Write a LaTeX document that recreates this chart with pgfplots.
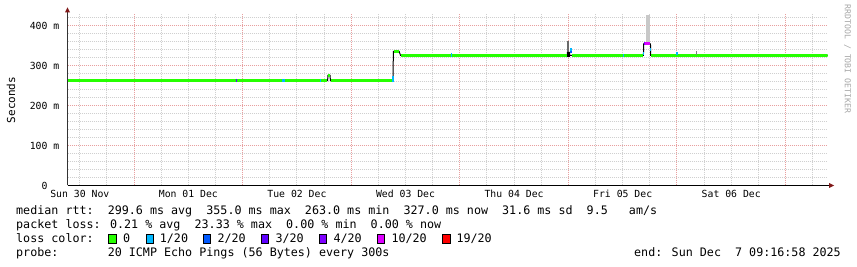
\documentclass[border=0pt]{standalone}
\usepackage{pgfplots}
\pgfplotsset{compat=1.18}
\usepackage{fontspec}
\setmainfont{DejaVu Sans Mono}
\definecolor{lzero}{HTML}{26FF00}
\definecolor{lone}{HTML}{00B8FF}
\definecolor{ltwo}{HTML}{0059FF}
\definecolor{lthree}{HTML}{5E00FF}
\definecolor{lfour}{HTML}{7E00FF}
\definecolor{lten}{HTML}{DD00FF}
\definecolor{lnineteen}{HTML}{FF0000}
\definecolor{gridred}{HTML}{E8A0A0}
\definecolor{gridgray}{HTML}{D0D0D0}
\definecolor{arrowred}{HTML}{801818}
\definecolor{smokedark}{HTML}{6A6A6A}
\definecolor{smokelight}{HTML}{C8C8C8}
\newcommand\tickfont{\fontsize{9.8pt}{10pt}\selectfont}
\newcommand\legfont{\fontsize{11.7pt}{12pt}\selectfont}
\begin{document}
\begin{tikzpicture}[x=1pt,y=1pt]
\useasboundingbox (0,0) rectangle (857,267);
\begin{axis}[
  at={(67.5pt,81.5pt)}, anchor=south west,
  scale only axis, width=760pt, height=172pt,
  xmin=9.28, xmax=177.28, ymin=0, ymax=430,
  axis line style={draw=none},
  xtick={24,48,72,96,120,144,168}, xticklabels={},
  minor xtick={12,18,30,36,42,54,60,66,78,84,90,102,108,114,126,132,138,150,156,162,174},
  extra x ticks={12,36,60,84,108,132,156},
  extra x tick labels={Sun 30 Nov,Mon 01 Dec,Tue 02 Dec,Wed 03 Dec,Thu 04 Dec,Fri 05 Dec,Sat 06 Dec},
  extra x tick style={grid=none},
  xticklabel style={font=\tickfont, anchor=base, inner sep=0pt, yshift=-12pt},
  ytick={0,100,200,300,400},
  yticklabels={0\hphantom{\ m},100 m,200 m,300 m,400 m},
  minor ytick={20,40,60,80,120,140,160,180,220,240,260,280,320,340,360,380,420},
  yticklabel style={font=\tickfont, anchor=east, inner sep=0pt, xshift=-8pt},
  major tick length=0pt, minor tick length=0pt,
  grid=both,
  major grid style={draw=gridred, dash pattern=on 1pt off 1pt, line width=1pt},
  minor grid style={draw=gridgray, dash pattern=on 1pt off 1pt, line width=1pt},
]
% smoke
\addplot[smokedark, line width=2.2pt, line cap=butt] coordinates {(120.0,330)(120.0,362)};
\addplot[smokelight, line width=4.7pt, line cap=butt] coordinates {(137.57,355)(137.57,425)};
% median (black steps)
\addplot[black, line width=1pt] coordinates {
(9.28,262)(66.8,262)(66.82,275)(67.35,275)(67.37,262)(81.26,262)(81.3,335)(82.6,335)(82.9,325)
(119.75,325)(119.77,333)(120.25,333)(120.27,325)(136.6,325)(136.62,354)(138.15,354)(138.17,325)(177.28,325)};
% loss 0 (green) flats
\addplot[lzero, line width=3pt, line cap=butt] coordinates {(9.28,262)(66.75,262)};
\addplot[lzero, line width=3pt, line cap=butt] coordinates {(66.95,275)(67.35,275)};
\addplot[lzero, line width=3pt, line cap=butt] coordinates {(67.45,262)(81.2,262)};
\addplot[lzero, line width=3pt, line cap=butt] coordinates {(81.5,335)(82.55,335)};
\addplot[lzero, line width=3pt, line cap=butt] coordinates {(82.95,325)(119.7,325)};
\addplot[lzero, line width=3pt, line cap=butt] coordinates {(120.75,325)(136.55,325)};
\addplot[lzero, line width=3pt, line cap=butt] coordinates {(138.25,325)(177.28,325)};
% other loss colours
\addplot[lthree, line width=3pt, line cap=butt] coordinates {(46.42,262)(46.62,262)};
\addplot[lone, line width=3pt, line cap=butt] coordinates {(56.75,262)(57.45,262)};
\addplot[lone, line width=3pt, line cap=butt] coordinates {(65.05,262)(65.4,262)};
\addplot[lone, line width=1.5pt, line cap=butt] coordinates {(81.2,258)(81.2,274)};
\addplot[lone, line width=1.2pt, line cap=butt] coordinates {(94.16,321)(94.16,330)};
\addplot[black, line width=4.5pt, line cap=butt] coordinates {(119.78,328)(120.25,328)};
\addplot[ltwo, line width=3pt, line cap=butt] coordinates {(120.25,335)(120.7,335)};
\addplot[lone, line width=1.2pt, line cap=butt] coordinates {(120.6,337)(120.6,343)};
\addplot[lone, line width=1.2pt, line cap=butt] coordinates {(132.2,322)(132.2,329)};
\addplot[lone, line width=1.2pt, line cap=butt] coordinates {(136.6,326)(136.6,333)};
\addplot[lfour, line width=3pt, line cap=butt] coordinates {(136.65,354)(137.0,354)};
\addplot[lten, line width=3pt, line cap=butt] coordinates {(137.0,354)(138.1,354)};
\addplot[lone, line width=1.5pt, line cap=butt] coordinates {(138.2,336)(138.2,343)};
\addplot[lone, line width=1.5pt, line cap=butt] coordinates {(144.05,325)(144.05,333)};
\addplot[gray, line width=0.8pt, line cap=butt] coordinates {(148.26,327)(148.26,337)};
\end{axis}
% axis lines and arrows
\draw[black!80, line width=1pt] (67.5,81.5) -- (67.5,255);
\fill[arrowred] (65,254.5) -- (70,254.5) -- (67.5,259.5) -- cycle;
\draw[black, line width=1pt] (67.5,81.5) -- (829.5,81.5);
\fill[arrowred] (829,79) -- (829,84) -- (834,81.5) -- cycle;
% labels
\node[rotate=90, font=\fontsize{11pt}{11pt}\selectfont, inner sep=0pt] at (11,167) {Seconds};
\node[rotate=-90, text=black!35, font=\fontsize{8.2pt}{8.2pt}\selectfont, inner sep=0pt] at (847.5,208) {RRDTOOL / TOBI OETIKER};
% legend
\node[anchor=base west, inner sep=0pt, font=\legfont] at (16,52) {median rtt:~~299.6 ms avg~~355.0 ms max~~263.0 ms min~~327.0 ms now~~31.6 ms sd~~9.5~~~am/s};
\node[anchor=base west, inner sep=0pt, font=\legfont] at (16,38) {packet loss: 0.21 \% avg~~23.33 \% max~~0.00 \% min~~0.00 \% now};
\node[anchor=base west, inner sep=0pt, font=\legfont] at (16,24) {loss color:};
\foreach \bx/\tx/\lab/\col in {108.7/123/0/lzero,146/159.7/1\slash 20/lone,203.3/217.3/2\slash 20/ltwo,261.3/275.3/3\slash 20/lthree,319.3/333.3/4\slash 20/lfour,377.3/391.3/10\slash 20/lten,442.7/456.3/19\slash 20/lnineteen}{
  \filldraw[fill=\col, draw=black, line width=0.8pt] (\bx,24) rectangle ++(7.4,8.2);
  \node[anchor=base west, inner sep=0pt, font=\legfont] at (\tx,24) {\lab};
}
\node[anchor=base west, inner sep=0pt, font=\legfont] at (16,10) {probe:~~~~~~~20 ICMP Echo Pings (56 Bytes) every 300s};
\node[anchor=base east, inner sep=0pt, font=\legfont] at (841,10) {end: Sun Dec~~7 09:16:58 2025};
\end{tikzpicture}
\end{document}
